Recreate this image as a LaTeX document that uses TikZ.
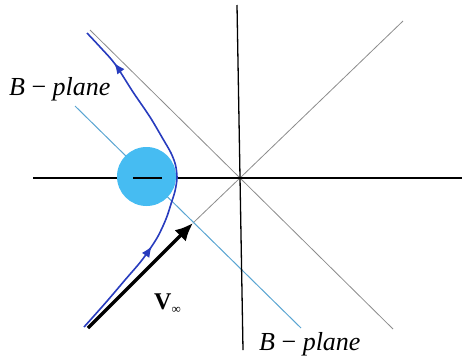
\documentclass[tikz,border=0pt]{standalone}
\usepackage{fontspec}
\setmainfont{Liberation Serif}
\usetikzlibrary{arrows.meta,decorations.markings}
\definecolor{orbitblue}{RGB}{40,60,190}
\definecolor{planetblue}{RGB}{70,188,242}
\definecolor{bplaneblue}{RGB}{90,165,210}
\definecolor{asymgray}{RGB}{140,140,140}
\begin{document}
\begin{tikzpicture}[x=1pt,y=-1pt,
 axis/.style={black,line width=1.3pt},
 asym/.style={asymgray,line width=0.8pt},
 bline/.style={bplaneblue,line width=1pt},
 orbit/.style={orbitblue,line width=1.6pt},
 flowarrow/.style={postaction={decorate},decoration={markings,
   mark=at position 0.30 with {\arrow{Latex[length=11pt,width=9pt]}},
   mark=at position 0.885 with {\arrow{Latex[length=11pt,width=9pt]}}}},
 lbl/.style={inner sep=0pt,anchor=base west,font=\fontsize{26}{26}\selectfont}]
\useasboundingbox (0,0) rectangle (462,362);
\coordinate (O) at (240,178);
\coordinate (vtop) at (237,5);
\coordinate (vbot) at (243,350);
\coordinate (hleft) at (33,178);
\coordinate (hright) at (462,178);
\coordinate (ul) at (90,30);
\coordinate (ur) at (403,21);
\coordinate (dr) at (393,329);
\coordinate (tip) at (193,223);
\coordinate (tail) at (88,328);
\coordinate (bs) at (75,106);
\coordinate (be) at (301,328);
\draw[asym] (ul) -- (O) -- (dr);
\draw[asym] (ur) -- (O) -- (tip);
\draw[bline] (bs) -- (be);
\draw[axis] (hleft) -- (hright);
\draw[axis] (vtop) -- (vbot);
\node[circle,fill=planetblue,minimum size=59pt,inner sep=0pt] (planet) at (146.5,176.5) {};
\coordinate (sl) at (133,178);
\coordinate (sr) at (162,178);
\draw[axis,line width=1.8pt] (sl) -- (sr);
\draw[orbit,flowarrow] plot[smooth] coordinates {(84,327) (93,317) (108,300) (125,280) (142,260) (157,238) (166,219) (171,204) (175,191) (177,178) (175.5,165) (171,153) (163,139) (150,117) (133,92) (115,64) (101,48) (87,33)};
\draw[line width=3.5pt,-{Latex[length=18pt,width=16pt]}] (tail) -- (tip);
\node[lbl] (bp1) at (9,95) {\textit{B} − \textit{plane}};
\node[lbl] (bp2) at (259,350) {\textit{B} − \textit{plane}};
\node[inner sep=0pt,anchor=base west,font=\fontsize{24}{24}\selectfont\bfseries] (vinf) at (154,309) {V\raisebox{-4pt}{\normalfont\fontsize{13}{13}\selectfont ∞}};
\end{tikzpicture}
\end{document}
